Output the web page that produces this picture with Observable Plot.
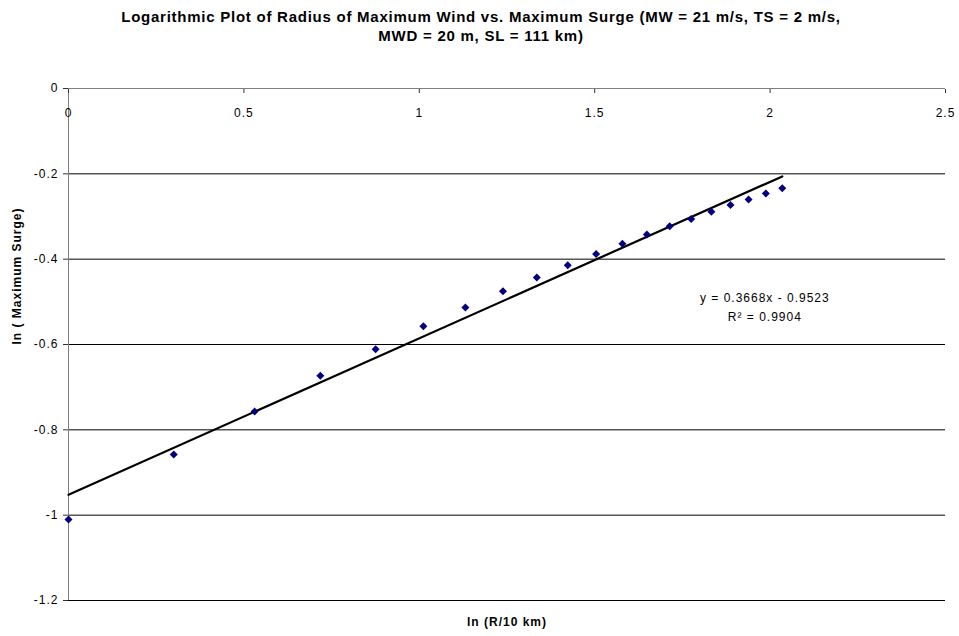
<!DOCTYPE html>
<html>
<head>
<meta charset="utf-8">
<script src="https://cdn.jsdelivr.net/npm/d3@7"></script>
<script src="https://cdn.jsdelivr.net/npm/@observablehq/plot@0.6"></script>
<style>
  html, body { margin: 0; padding: 0; background: #fff; }
  body { font-family: "Liberation Sans", Arial, Helvetica, sans-serif; width: 959px; }
  #title { height: 50px; box-sizing: border-box; padding-top: 7px; padding-left: 3px; text-align: center;
           font-weight: bold; font-size: 15px; line-height: 19px; letter-spacing: 0.75px; color: #000; }
  svg { display: block; }
  svg text { letter-spacing: 1px; }
</style>
</head>
<body>
<div id="title">Logarithmic Plot of Radius of Maximum Wind vs. Maximum Surge (MW = 21 m/s, TS = 2 m/s,<br>MWD = 20 m, SL = 111 km)</div>
<div id="chart"></div>
<script>
// ln(R / 10 km)
const lnR = [0, 0.3001, 0.5306, 0.7178, 0.8755, 1.0116, 1.1314, 1.2384, 1.3350, 1.4231,
             1.5041, 1.5790, 1.6487, 1.7138, 1.7750, 1.8326, 1.8871, 1.9387, 1.9879, 2.0347];
// ln(Maximum Surge)
const lnSurge = [-1.010, -0.858, -0.757, -0.673, -0.611, -0.557, -0.513, -0.475, -0.443, -0.414,
                 -0.388, -0.364, -0.342, -0.323, -0.306, -0.289, -0.273, -0.260, -0.246, -0.234];
// linear trendline endpoints: y = 0.3668x - 0.9523
const trendX = [0, 2.0347];
const trendY = [-0.9523, -0.2060];
const xTicks = [0, 0.5, 1, 1.5, 2, 2.5];
const yTicks = [0, -0.2, -0.4, -0.6, -0.8, -1, -1.2];
const trendLabel = "y = 0.3668x - 0.9523\nR\u00B2 = 0.9904";

const points = lnR.map((x, i) => ({x, y: lnSurge[i]}));
const trend = trendX.map((x, i) => ({x, y: trendY[i]}));

const chart = Plot.plot({
  width: 959,
  height: 586,
  marginLeft: 68,
  marginRight: 14,
  marginTop: 38,
  marginBottom: 36,
  style: { fontFamily: "'Liberation Sans', Arial, sans-serif", fontSize: "12px", color: "#000", background: "#fff" },
  x: { domain: [0, 2.5], axis: null },
  y: { domain: [-1.2, 0], axis: null },
  marks: [
    // horizontal gridlines
    Plot.ruleY(yTicks.filter(d => d !== 0), { stroke: "#000", strokeWidth: 1 }),
    // axis lines
    Plot.ruleY([0], { stroke: "#808080", strokeWidth: 1 }),
    Plot.ruleX([0], { stroke: "#808080", strokeWidth: 1 }),
    // x ticks (downward from the y=0 axis) and labels
    Plot.axisX({ anchor: "top", ticks: xTicks, tickSize: -4, tickFormat: () => "", label: null, stroke: "#333" }),
    Plot.text(xTicks, { x: d => d, frameAnchor: "top", dy: 20, text: d => String(d), fontSize: 12, fill: "#000" }),
    // y axis
    Plot.axisY({ ticks: yTicks, tickSize: 5, tickPadding: 5, tickFormat: d => String(d), label: null,
                 fontSize: 12, stroke: "#333", fill: "#000" }),
    // trendline
    Plot.line(trend, { x: "x", y: "y", stroke: "#000", strokeWidth: 2.2 }),
    // data points
    Plot.dot(points, { x: "x", y: "y", symbol: "diamond2", r: 3.6, fill: "#000080", stroke: "none" }),
    // trendline equation
    Plot.text([trendLabel], { x: 1.985, y: -0.508, text: d => d, fontSize: 12, lineHeight: 1.65, fill: "#000" }),
    // axis titles
    Plot.text(["ln ( Maximum Surge)"], { frameAnchor: "left", dx: -51, rotate: -90, fontWeight: "bold", fontSize: 12, fill: "#000" }),
    Plot.text(["ln (R/10 km)"], { frameAnchor: "bottom", dy: 25, fontWeight: "bold", fontSize: 12, fill: "#000" })
  ]
});
document.getElementById("chart").appendChild(chart);
</script>
</body>
</html>
